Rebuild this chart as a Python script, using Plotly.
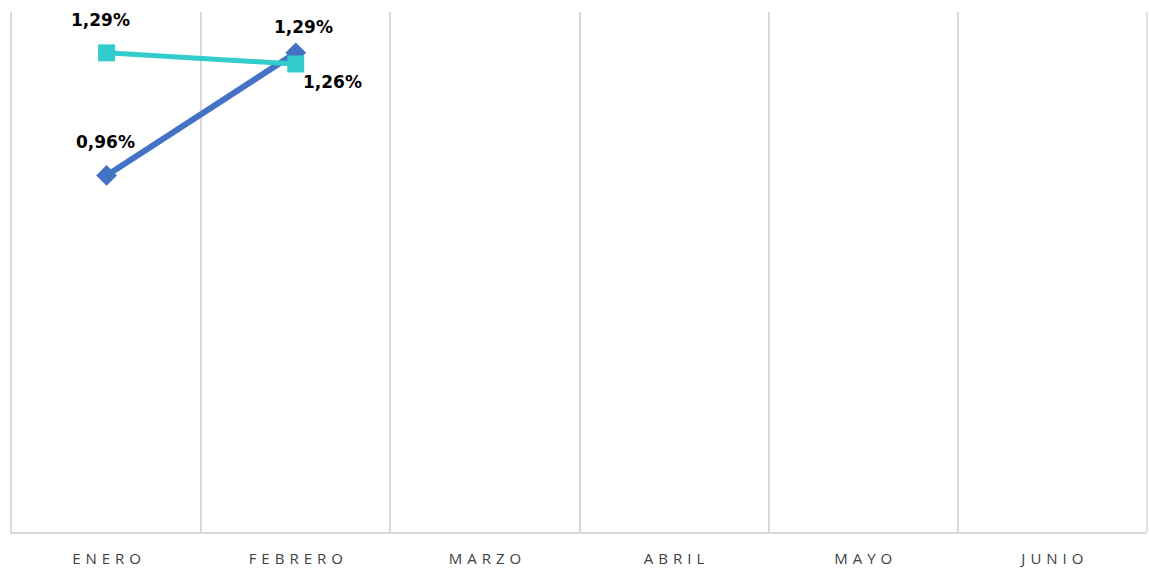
import plotly.graph_objects as go

# =============================================================================
# DATA
# =============================================================================

MONTHS = ["ENERO", "FEBRERO", "MARZO", "ABRIL", "MAYO", "JUNIO"]

SERIES_A = [0.0096, 0.0129]   # blue, diamonds
SERIES_B = [0.0129, 0.0126]   # teal, squares

# =============================================================================
# STYLE
# =============================================================================

BLUE = "#4472C4"
TEAL = "#33CCCC"
GRID = "#D9D9D9"
LABEL_FONT = dict(family="DejaVu Sans", size=17, color="#000000")

# label offsets (xshift, yshift) per point
OFFSETS_A = [(-1, 33), (8, 26)]
OFFSETS_B = [(-6, 33), (37, -18)]


def spaced(s):
    # letter-spaced tick labels
    return "\u2004".join(s)


fig = go.Figure()

fig.add_trace(go.Scatter(
    x=MONTHS[:len(SERIES_A)],
    y=SERIES_A,
    mode="lines+markers",
    line=dict(color=BLUE, width=6),
    marker=dict(symbol="diamond", size=16, color=BLUE),
    showlegend=False,
))

fig.add_trace(go.Scatter(
    x=MONTHS[:len(SERIES_B)],
    y=SERIES_B,
    mode="lines+markers",
    line=dict(color=TEAL, width=5),
    marker=dict(symbol="square", size=17, color=TEAL),
    showlegend=False,
))

# data labels
for values, offsets in ((SERIES_A, OFFSETS_A), (SERIES_B, OFFSETS_B)):
    for month, v, (dx, dy) in zip(MONTHS, values, offsets):
        fig.add_annotation(
            x=month,
            y=v,
            text="<b>" + f"{v * 100:.2f}".replace(".", ",") + "%</b>",
            showarrow=False,
            xanchor="center",
            yanchor="middle",
            xshift=dx,
            yshift=dy,
            font=LABEL_FONT,
        )

fig.update_layout(
    width=1149,
    height=569,
    template="plotly_white",
    plot_bgcolor="white",
    paper_bgcolor="white",
    margin=dict(l=12, r=2, t=12, b=37, autoexpand=False),
    separators=",.",
)

fig.update_xaxes(
    type="category",
    categoryorder="array",
    categoryarray=MONTHS,
    tickmode="array",
    tickvals=MONTHS,
    ticktext=[spaced(m) for m in MONTHS],
    range=[-0.5, len(MONTHS) - 0.5],
    tickson="boundaries",
    showgrid=True,
    gridcolor=GRID,
    gridwidth=1.5,
    showline=True,
    linecolor=GRID,
    linewidth=1.5,
    ticks="",
    automargin=False,
    ticklabelstandoff=12,
    tickfont=dict(family="Open Sans", size=15, color="#404040"),
    zeroline=False,
)

fig.update_yaxes(
    range=[0, 0.014],
    showgrid=False,
    showticklabels=False,
    showline=True,
    linecolor=GRID,
    linewidth=1.5,
    automargin=False,
    zeroline=False,
)

# right-hand boundary line of the last category
fig.add_shape(
    type="line", xref="paper", yref="paper",
    x0=1, x1=1, y0=0, y1=1,
    line=dict(color=GRID, width=1.5),
)

# drop the default 8px body margin so the figure fills the window exactly
fig.write_html(
    "out.html",
    config={"displayModeBar": False},
    post_script=(
        "document.body.style.margin='0';"
        "document.documentElement.style.overflow='hidden';"
        "document.body.style.overflow='hidden';"
    ),
)
